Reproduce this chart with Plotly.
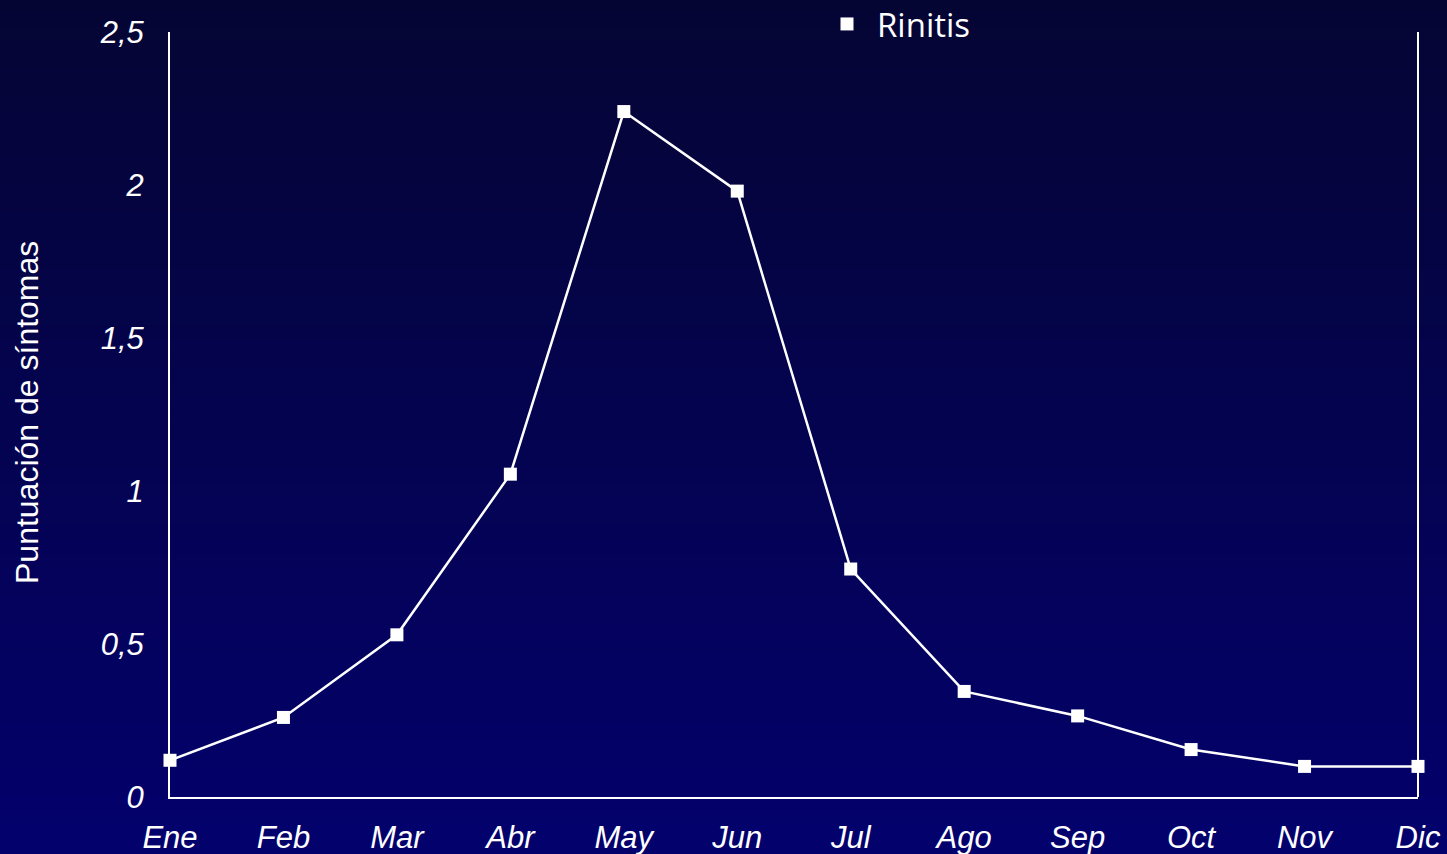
import plotly.graph_objects as go

# Monthly rhinitis symptom scores
months = ["Ene", "Feb", "Mar", "Abr", "May", "Jun", "Jul", "Ago", "Sep", "Oct", "Nov", "Dic"]
rinitis = [0.12, 0.26, 0.53, 1.055, 2.24, 1.98, 0.745, 0.345, 0.265, 0.155, 0.10, 0.10]

y_ticks = [0, 0.5, 1, 1.5, 2, 2.5]
y_tick_labels = ["0", "0,5", "1", "1,5", "2", "2,5"]

W, H = 1447, 854
ML, MR, MT, MB = 170, 29, 32, 57
PW, PH = W - ML - MR, H - MT - MB

x_idx = list(range(len(months)))

fig = go.Figure()
# connecting line
fig.add_trace(go.Scatter(
    x=x_idx, y=rinitis, mode="lines", showlegend=False,
    line=dict(color="white", width=2.5), cliponaxis=False, hoverinfo="skip",
))
# square markers (legend entry)
fig.add_trace(go.Scatter(
    x=x_idx, y=rinitis, mode="markers", name="Rinitis",
    marker=dict(symbol="square", size=13, color="white"), cliponaxis=False,
))

# vertical navy gradient behind the whole figure
top = (5, 5, 52)
bot = (3, 1, 108)
n = 60
y_lo = -MB / PH
y_hi = 1 + MT / PH
shapes = []
for i in range(n):
    t = i / (n - 1)
    c = tuple(round(top[k] + (bot[k] - top[k]) * t) for k in range(3))
    y1 = y_hi - (y_hi - y_lo) * i / n
    y0 = y_hi - (y_hi - y_lo) * (i + 1) / n
    shapes.append(dict(type="rect", xref="paper", yref="paper",
                       x0=-ML / PW - 0.01, x1=1 + MR / PW + 0.01,
                       y0=y0 - 0.002, y1=y1 + 0.002,
                       fillcolor="rgb(%d,%d,%d)" % c, line=dict(width=0),
                       layer="below"))

# right-hand frame line
shapes.append(dict(type="line", xref="paper", yref="paper", x0=1, x1=1, y0=0, y1=1,
                   line=dict(color="white", width=2), layer="above"))

tick_font = dict(family="Liberation Sans, Arial, sans-serif", size=31, color="white",
                 style="italic")

fig.update_layout(
    width=W, height=H,
    margin=dict(l=ML, r=MR, t=MT, b=MB, autoexpand=False),
    paper_bgcolor="rgb(4,3,80)",
    plot_bgcolor="rgba(0,0,0,0)",
    shapes=shapes,
    showlegend=True,
    legend=dict(x=(817 - ML) / PW, xanchor="left", y=1 + (MT - 24) / PH, yanchor="middle",
                bgcolor="rgba(0,0,0,0)",
                font=dict(family="Open Sans, Noto Sans, sans-serif", size=33, color="white"),
                itemwidth=50),
    xaxis=dict(
        range=[0, len(months) - 1],
        tickmode="array", tickvals=x_idx, ticktext=months,
        showgrid=False, zeroline=False,
        showline=True, linecolor="white", linewidth=2,
        ticks="outside", ticklen=12, tickcolor="rgba(0,0,0,0)",
        tickfont=tick_font,
    ),
    yaxis=dict(
        range=[0, 2.5],
        tickmode="array", tickvals=y_ticks, ticktext=y_tick_labels,
        showgrid=False, zeroline=False,
        showline=True, linecolor="white", linewidth=2,
        ticks="outside", ticklen=18, tickcolor="rgba(0,0,0,0)",
        tickfont=tick_font,
    ),
    annotations=[dict(
        text="Puntuación de síntomas", textangle=-90,
        xref="paper", yref="paper", x=(27 - ML) / PW, y=(797 - 413) / PH,
        xanchor="center", yanchor="middle", showarrow=False,
        font=dict(family="Liberation Sans, Arial, sans-serif", size=32, color="white"),
    )],
)

fig.write_html("out.html")
